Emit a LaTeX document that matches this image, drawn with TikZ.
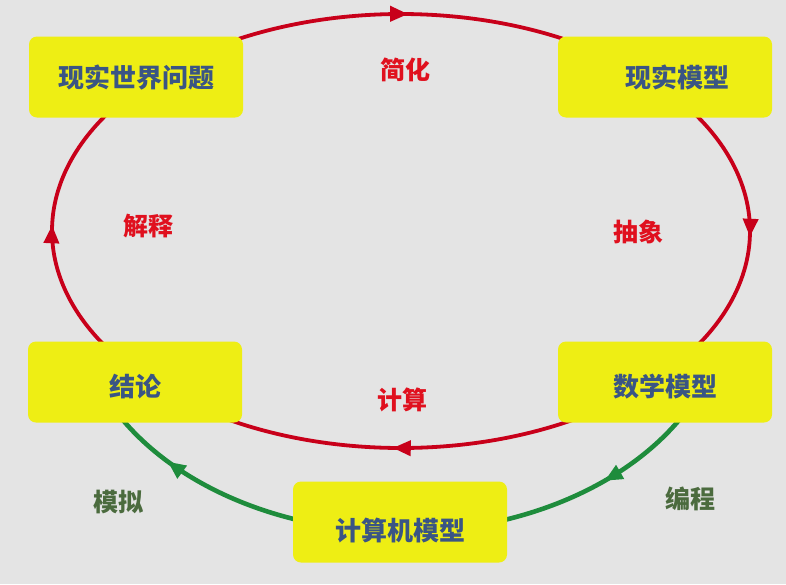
\documentclass[tikz,border=0pt]{standalone}
\usepackage{fontspec}
\newfontfamily\cjk{Noto Sans CJK SC}
\usetikzlibrary{decorations.markings,arrows.meta}
\definecolor{bg}{HTML}{E4E4E4}
\definecolor{boxy}{HTML}{EEEE14}
\definecolor{txtb}{HTML}{3A5584}
\definecolor{arcred}{HTML}{C8001A}
\definecolor{lblred}{HTML}{E0101E}
\definecolor{arcgreen}{HTML}{1E8C3C}
\definecolor{lblgreen}{HTML}{4B6B3E}
\tikzset{
  stagebox/.style={fill=boxy, rounded corners=8pt, minimum width=214pt, minimum height=81pt,
    inner sep=0pt, text=txtb, font=\cjk\bfseries\fontsize{26}{26}\selectfont},
  redlbl/.style={inner sep=0pt, text=lblred, font=\cjk\bfseries\fontsize{25}{25}\selectfont},
  greenlbl/.style={inner sep=0pt, text=lblgreen, font=\cjk\bfseries\fontsize{25}{25}\selectfont},
  redarc/.style={draw=arcred, line width=3.8pt},
  greenarc/.style={draw=arcgreen, line width=4.6pt},
  midtip/.style={postaction={decorate}, decoration={markings,
    mark=at position #1 with {\arrow{Triangle[length=18pt,width=15pt]}}}},
}
\begin{document}
\begin{tikzpicture}[x=1pt,y=-1pt]
\fill[bg] (0,0) rectangle (786,584);
\useasboundingbox (0,0) rectangle (786,584);
% ellipse centres
\coordinate (O) at (401,231);
\coordinate (G) at (401,300);
% red cycle
\draw[redarc, midtip=0.52, arcred] ([shift={(240:349 and 217)}]O) arc[start angle=240, end angle=300, x radius=349, y radius=217];
\draw[redarc, midtip=0.52, arcred] ([shift={(-35:349 and 217)}]O) arc[start angle=-35, end angle=35, x radius=349, y radius=217];
\draw[redarc, midtip=0.52, arcred] ([shift={(55:349 and 217)}]O) arc[start angle=55, end angle=125, x radius=349, y radius=217];
\draw[redarc, midtip=0.52, arcred] ([shift={(145:349 and 217)}]O) arc[start angle=145, end angle=215, x radius=349, y radius=217];
% green path
\draw[greenarc, midtip=0.5, arcgreen] ([shift={(28:325 and 232)}]G) arc[start angle=28, end angle=72, x radius=325, y radius=232];
\draw[greenarc, midtip=0.66, arcgreen] ([shift={(108:325 and 232)}]G) arc[start angle=108, end angle=152, x radius=325, y radius=232];
% boxes
\node[stagebox] (wp) at (136,77) {现实世界问题};
\node[stagebox] (rm) at (665,77) {\hspace*{24pt}现实模型};
\node[stagebox, text height=31pt, text depth=3pt] (cl) at (135,382) {结论};
\node[stagebox, text height=31pt, text depth=3pt] (mm) at (665,382) {数学模型};
\node[stagebox, text height=39pt, text depth=3pt] (cm) at (400,522) {计算机模型};
% labels
\node[redlbl] (l1) at (405,70) {简化};
\node[redlbl] (l2) at (638,232) {抽象};
\node[redlbl] (l3) at (148,226) {解释};
\node[redlbl] (l4) at (402,400) {计算};
\node[greenlbl] (l5) at (118,502) {模拟};
\node[greenlbl] (l6) at (690,499) {编程};
\end{tikzpicture}
\end{document}
